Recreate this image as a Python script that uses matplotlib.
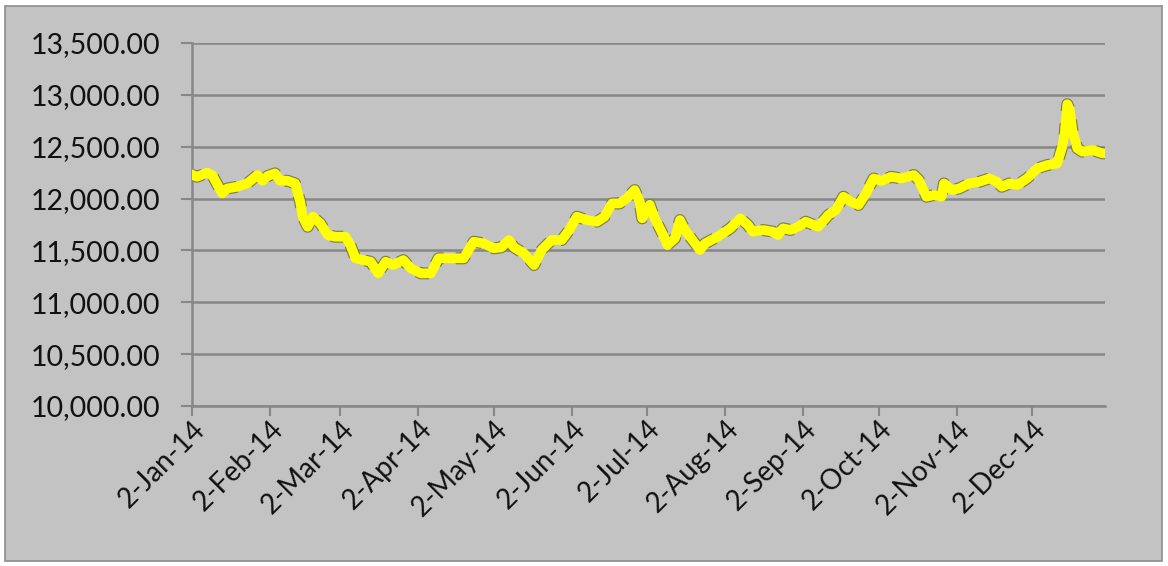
import numpy as np
import pandas as pd
import matplotlib
matplotlib.use('Agg')
import matplotlib.pyplot as plt
import matplotlib.dates as mdates
from matplotlib.patches import Rectangle
from matplotlib.ticker import FuncFormatter

# values
dates = ['2014-01-02', '2014-01-04', '2014-01-08', '2014-01-10', '2014-01-14', '2014-01-16',
         '2014-01-20', '2014-01-24', '2014-01-28', '2014-01-30', '2014-02-01', '2014-02-04',
         '2014-02-06', '2014-02-09', '2014-02-12', '2014-02-14', '2014-02-15', '2014-02-17',
         '2014-02-19', '2014-02-22', '2014-02-25', '2014-02-28', '2014-03-04', '2014-03-06',
         '2014-03-08', '2014-03-11', '2014-03-14', '2014-03-17', '2014-03-20', '2014-03-23',
         '2014-03-27', '2014-03-30', '2014-04-03', '2014-04-07', '2014-04-10', '2014-04-15',
         '2014-04-20', '2014-04-24', '2014-04-28', '2014-05-02', '2014-05-05', '2014-05-08',
         '2014-05-10', '2014-05-14', '2014-05-18', '2014-05-21', '2014-05-25', '2014-05-29',
         '2014-06-01', '2014-06-04', '2014-06-08', '2014-06-12', '2014-06-15', '2014-06-18',
         '2014-06-21', '2014-06-24', '2014-06-27', '2014-06-29', '2014-06-30', '2014-07-03',
         '2014-07-05', '2014-07-08', '2014-07-10', '2014-07-13', '2014-07-15', '2014-07-17',
         '2014-07-20', '2014-07-23', '2014-07-25', '2014-07-30', '2014-08-04', '2014-08-08',
         '2014-08-11', '2014-08-13', '2014-08-17', '2014-08-21', '2014-08-23', '2014-08-25',
         '2014-08-28', '2014-08-31', '2014-09-03', '2014-09-08', '2014-09-12', '2014-09-15',
         '2014-09-18', '2014-09-21', '2014-09-24', '2014-09-27', '2014-09-30', '2014-10-03',
         '2014-10-07', '2014-10-11', '2014-10-16', '2014-10-18', '2014-10-21', '2014-10-24',
         '2014-10-27', '2014-10-28', '2014-10-31', '2014-11-03', '2014-11-07', '2014-11-11',
         '2014-11-15', '2014-11-18', '2014-11-20', '2014-11-23', '2014-11-26', '2014-11-30',
         '2014-12-04', '2014-12-08', '2014-12-12', '2014-12-14', '2014-12-15', '2014-12-16',
         '2014-12-17', '2014-12-18', '2014-12-20', '2014-12-22', '2014-12-26', '2014-12-30',
         '2014-12-31']
values = [12230, 12210, 12250, 12227, 12050, 12097,
          12114, 12146, 12227, 12172, 12217, 12243,
          12172, 12172, 12146, 11970, 11825, 11728,
          11825, 11761, 11648, 11632, 11632, 11552,
          11424, 11407, 11391, 11279, 11391, 11359,
          11407, 11327, 11279, 11279, 11424, 11424,
          11424, 11584, 11568, 11520, 11530, 11600,
          11530, 11472, 11359, 11504, 11600, 11600,
          11697, 11825, 11793, 11777, 11825, 11953,
          11953, 12005, 12082, 11970, 11809, 11940,
          11809, 11665, 11552, 11616, 11793, 11697,
          11600, 11504, 11568, 11632, 11713, 11809,
          11745, 11681, 11697, 11681, 11648, 11713,
          11697, 11729, 11777, 11729, 11841, 11889,
          12018, 11970, 11938, 12050, 12194, 12170,
          12210, 12194, 12227, 12178, 12018, 12034,
          12018, 12146, 12082, 12098, 12146, 12162,
          12194, 12162, 12114, 12146, 12130, 12194,
          12290, 12323, 12339, 12500, 12628, 12910,
          12854, 12661, 12484, 12452, 12468, 12436,
          12436]

tick_dates = ['2014-01-02', '2014-02-02', '2014-03-02', '2014-04-02', '2014-05-02', '2014-06-02',
              '2014-07-02', '2014-08-02', '2014-09-02', '2014-10-02', '2014-11-02', '2014-12-02']
y_ticks = [10000, 10500, 11000, 11500, 12000, 12500, 13000, 13500]

plt.rcParams['font.family'] = ['Lato', 'DejaVu Sans']

x = pd.to_datetime(dates)
bg = '#C3C3C3'
grid = '#878787'

fig = plt.figure(figsize=(11.68, 5.66), dpi=100)
fig.patch.set_facecolor('white')
fig.patches.append(Rectangle((5 / 1168, 5 / 566), 1157 / 1168, 555 / 566, transform=fig.transFigure,
                             facecolor=bg, edgecolor='#8C8C8C', lw=1.2, zorder=-10))

ax = fig.add_axes([192 / 1168, 1 - 406 / 566, (1105 - 192) / 1168, (406 - 43) / 566])
ax.set_zorder(5)
ax.set_facecolor('none')

# outlined thick yellow line
ax.plot(x, values, color='#7A7A50', lw=8.6, ls=(0, (1, 1)), zorder=3)
ax.plot(x, values, color='#FFFF00', lw=7.0, solid_joinstyle='round', zorder=4)

ax.set_ylim(10000, 13500)
ax.set_xlim(pd.Timestamp('2014-01-02'), pd.Timestamp('2014-12-31'))
ax.set_yticks(y_ticks)
ax.yaxis.set_major_formatter(FuncFormatter(lambda v, p: f'{v:,.2f}'))
ax.set_xticks(pd.to_datetime(tick_dates))
ax.xaxis.set_major_formatter(mdates.DateFormatter('%-d-%b-%y'))

ax.grid(axis='y', color=grid, lw=1.8, zorder=1)
ax.set_axisbelow(True)
for s in ['top', 'right']:
    ax.spines[s].set_visible(False)
for s in ['left', 'bottom']:
    ax.spines[s].set_color(grid)
    ax.spines[s].set_linewidth(1.8)

ax.tick_params(axis='y', length=8, width=1.5, color=grid, pad=15, labelsize=20.5, labelcolor='#111111')
ax.tick_params(axis='x', length=7, width=1.5, color=grid, pad=0, labelsize=20, labelcolor='#111111')
for lab in ax.get_xticklabels():
    lab.set_rotation(45)
    lab.set_ha('right')
    lab.set_va('top')
    lab.set_rotation_mode('anchor')

fig.savefig('out.png', dpi=100, facecolor=fig.get_facecolor())
